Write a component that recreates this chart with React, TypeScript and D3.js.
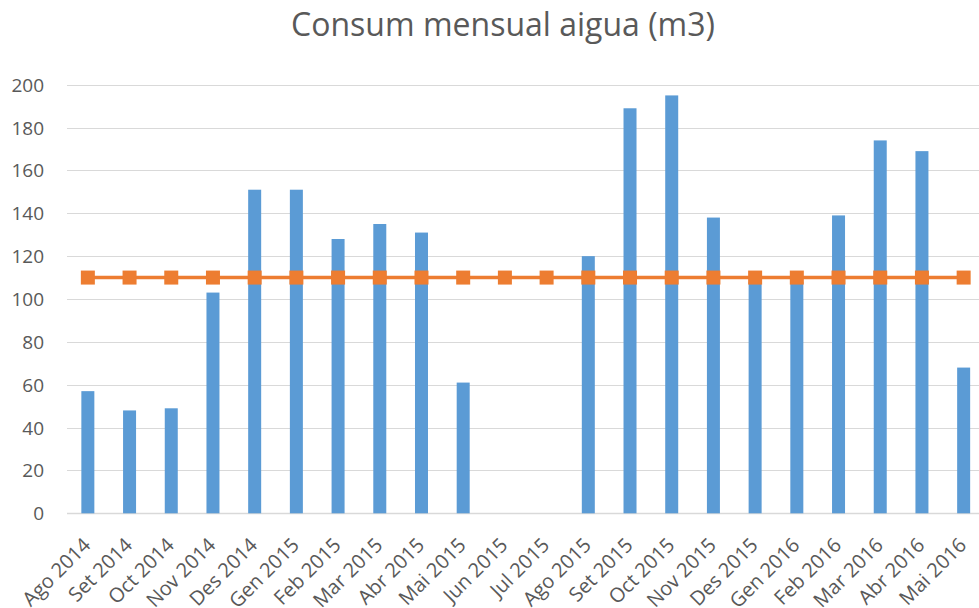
import React, { useEffect, useRef } from 'react';
import * as d3 from 'd3';

const months = [
  'Ago 2014', 'Set 2014', 'Oct 2014', 'Nov 2014', 'Des 2014', 'Gen 2015',
  'Feb 2015', 'Mar 2015', 'Abr 2015', 'Mai 2015', 'Jun 2015', 'Jul 2015',
  'Ago 2015', 'Set 2015', 'Oct 2015', 'Nov 2015', 'Des 2015', 'Gen 2016',
  'Feb 2016', 'Mar 2016', 'Abr 2016', 'Mai 2016',
];

// monthly consumption, null where there is no reading
const consum: (number | null)[] = [
  57, 48, 49, 103, 151, 151, 128, 135, 131, 61, null, null,
  120, 189, 195, 138, 108, 108, 139, 174, 169, 68,
];

// average line
const mitjana = months.map(() => 110);

const yTicks = [0, 20, 40, 60, 80, 100, 120, 140, 160, 180, 200];

const W = 979;
const H = 608;
const FONT = '"Open Sans", "Liberation Sans", sans-serif';

export default function App() {
  const svgRef = useRef<SVGSVGElement>(null);

  useEffect(() => {
    const svg = d3.select(svgRef.current);
    svg.selectAll('*').remove();

    const left = 67;
    const right = 984.5;
    const top = 84.7;
    const bottom = 513.3;

    const x = d3.scaleBand<string>().domain(months).range([left, right]);
    const y = d3.scaleLinear().domain([0, 200]).range([bottom, top]);

    svg
      .append('text')
      .attr('x', 503)
      .attr('y', 36)
      .attr('text-anchor', 'middle')
      .attr('font-family', FONT)
      .attr('font-size', 32)
      .attr('fill', '#595959')
      .text('Consum mensual aigua (m3)');

    // grid
    svg
      .append('g')
      .selectAll('line')
      .data(yTicks)
      .enter()
      .append('line')
      .attr('x1', left)
      .attr('x2', W)
      .attr('y1', (d) => Math.round(y(d)) + 0.5)
      .attr('y2', (d) => Math.round(y(d)) + 0.5)
      .attr('stroke', '#d9d9d9')
      .attr('stroke-width', (d) => (d === 0 ? 1.5 : 1));

    svg
      .append('g')
      .selectAll('text')
      .data(yTicks)
      .enter()
      .append('text')
      .attr('x', 44)
      .attr('y', (d) => y(d) + 7)
      .attr('text-anchor', 'end')
      .attr('font-family', FONT)
      .attr('font-size', 19)
      .attr('fill', '#595959')
      .text((d) => d);

    const barW = 13;
    svg
      .append('g')
      .selectAll('rect')
      .data(months.map((m, i) => ({ m, v: consum[i] })).filter((d) => d.v !== null))
      .enter()
      .append('rect')
      .attr('x', (d) => x(d.m)! + x.bandwidth() / 2 - barW / 2)
      .attr('y', (d) => y(d.v as number))
      .attr('width', barW)
      .attr('height', (d) => bottom - y(d.v as number))
      .attr('fill', '#5b9bd5');

    const cx = (m: string) => x(m)! + x.bandwidth() / 2;

    svg
      .append('path')
      .datum(mitjana)
      .attr('fill', 'none')
      .attr('stroke', '#ed7d31')
      .attr('stroke-width', 3.5)
      .attr(
        'd',
        d3
          .line<number>()
          .x((d, i) => cx(months[i]))
          .y((d) => y(d))
      );

    const mk = 14;
    svg
      .append('g')
      .selectAll('rect')
      .data(mitjana)
      .enter()
      .append('rect')
      .attr('x', (d, i) => cx(months[i]) - mk / 2)
      .attr('y', (d) => y(d) - mk / 2)
      .attr('width', mk)
      .attr('height', mk)
      .attr('fill', '#ed7d31');

    svg
      .append('g')
      .selectAll('text')
      .data(months)
      .enter()
      .append('text')
      .attr('transform', (d) => `translate(${cx(d) + 4},${bottom + 33}) rotate(-45)`)
      .attr('text-anchor', 'end')
      .attr('font-family', FONT)
      .attr('font-size', 20)
      .attr('fill', '#595959')
      .text((d) => d);
  }, []);

  return (
    <svg
      ref={svgRef}
      width={W}
      height={H}
      style={{ position: 'absolute', left: 0, top: 0, background: '#fff' }}
    />
  );
}
